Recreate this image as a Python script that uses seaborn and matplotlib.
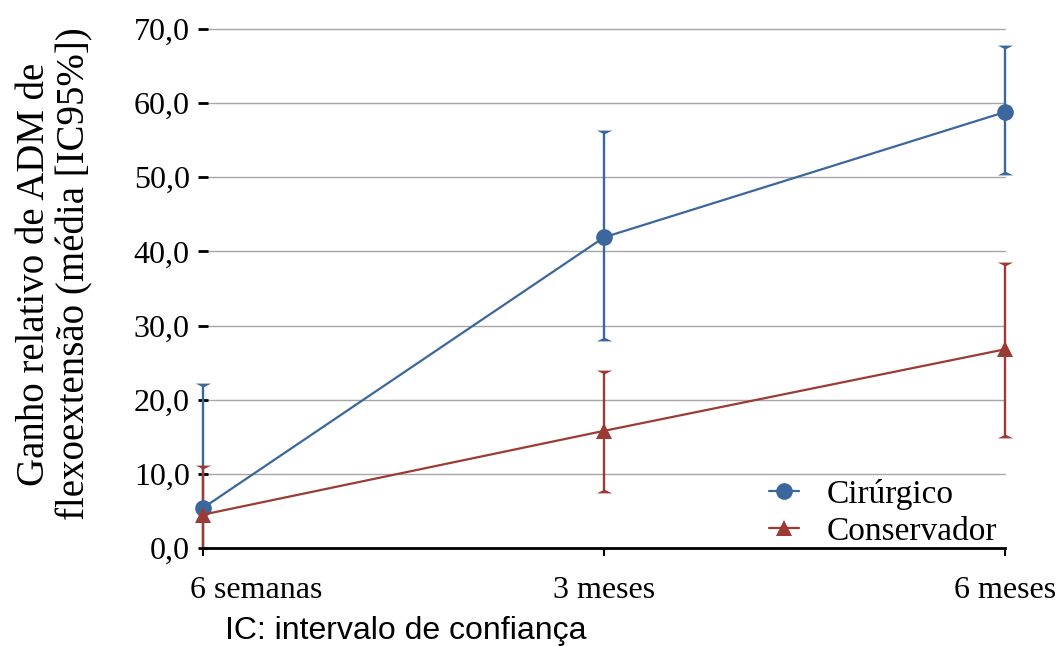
import matplotlib
matplotlib.use("Agg")
import matplotlib.pyplot as plt
from matplotlib.path import Path
import seaborn as sns
import pandas as pd
import numpy as np

categories = ["6 semanas", "3 meses", "6 meses"]
cir_mean = [5.4, 41.9, 58.8]
cir_low = [-11.2, 28.2, 50.6]
cir_high = [22.0, 56.1, 67.6]
con_mean = [4.5, 15.8, 26.8]
con_low = [-1.9, 7.7, 15.1]
con_high = [10.9, 23.7, 38.3]
series = ["Cirúrgico", "Conservador"]
yticks = [0, 10, 20, 30, 40, 50, 60, 70]

blue = "#3B679C"
red = "#9C3B36"

sns.set_theme(style="white")
plt.rcParams['font.family'] = ['Liberation Serif', 'DejaVu Serif']
plt.rcParams['text.color'] = 'black'
plt.rcParams['axes.labelcolor'] = 'black'
plt.rcParams['xtick.color'] = 'black'
plt.rcParams['ytick.color'] = 'black'

fig = plt.figure(figsize=(10.62, 6.46), dpi=100)
ax = fig.add_axes([203/1062, 1-548/646, (1005-203)/1062, (548-29)/646])

x = np.arange(len(categories))
df = pd.DataFrame({
    "x": np.concatenate([x, x]),
    "y": cir_mean + con_mean,
    "grupo": [series[0]]*3 + [series[1]]*3,
})

for yy in yticks[1:]:
    ax.axhline(yy, color="#A6A6A6", lw=1.0, zorder=0)

ymin, ymax = 0, 70

cap_down = Path([(-1, 0.25), (1, 0.25), (0, -0.25), (-1, 0.25)],
                [Path.MOVETO, Path.LINETO, Path.LINETO, Path.CLOSEPOLY])
cap_up = Path([(-1, -0.25), (1, -0.25), (0, 0.25), (-1, -0.25)],
              [Path.MOVETO, Path.LINETO, Path.LINETO, Path.CLOSEPOLY])

for mean, lo, hi, col in [(cir_mean, cir_low, cir_high, blue), (con_mean, con_low, con_high, red)]:
    mean = np.array(mean); lo = np.array(lo); hi = np.array(hi)
    lo_vis = np.clip(lo, ymin, ymax)
    ax.vlines(x, lo_vis, hi, color=col, lw=1.7, zorder=2, clip_on=False)
    ax.plot(x, hi, linestyle="none", marker=cap_down, markersize=11, color=col,
            markeredgewidth=0, zorder=2, clip_on=False)
    lo_cap = np.where(lo >= ymin, lo, np.nan)
    ax.plot(x, lo_cap, linestyle="none", marker=cap_up, markersize=11, color=col,
            markeredgewidth=0, zorder=2, clip_on=False)

sns.lineplot(data=df, x="x", y="y", hue="grupo", style="grupo",
             markers={series[0]: "o", series[1]: "^"}, dashes=False,
             palette={series[0]: blue, series[1]: red}, ax=ax,
             markersize=12, linewidth=1.6, markeredgewidth=0, zorder=3)
for ln in ax.lines:
    ln.set_clip_on(False)

ax.set_xlim(0, 2)
ax.set_ylim(ymin, ymax)
ax.set_yticks(yticks)
ax.set_yticklabels([f"{v:.1f}".replace(".", ",") for v in yticks], fontsize=23)
ax.set_xticks(x)
ax.set_xticklabels([""] + categories[1:], fontsize=23)
# first category label sits shifted to the right (as in the reference)
ax.annotate(categories[0], xy=(x[0], 0), xycoords=("data", "axes fraction"),
            xytext=(53 * 0.72, -20 * 0.72 - 6), textcoords="offset points",
            ha="center", va="top", fontsize=23, color="black")
for sp in ["top", "right", "left"]:
    ax.spines[sp].set_visible(False)
ax.spines["bottom"].set_color("black")
ax.spines["bottom"].set_linewidth(2)
ax.tick_params(axis="y", direction="inout", length=7, width=2, color="black",
               labelcolor="black", left=True, pad=6)
ax.tick_params(axis="x", direction="out", length=6, width=1.5, color="black",
               labelcolor="black", bottom=True, pad=14)
ax.set_xlabel("")
ax.set_ylabel("Ganho relativo de ADM de\nflexoextensão (média [IC95%])", fontsize=28,
              linespacing=1.12, color="black")
ax.yaxis.set_label_coords(-0.137, 0.528)

leg = ax.legend(frameon=False, fontsize=24, loc="lower right", bbox_to_anchor=(1.027, -0.056),
                handlelength=0.9, handletextpad=0.8, labelspacing=0.2)
for h in leg.legend_handles:
    h.set_markersize(12)
for t in leg.get_texts():
    t.set_color("black")

fig.text(225/1062, 1-631/646, "IC: intervalo de confiança", fontsize=23,
         family=["Liberation Sans", "DejaVu Sans"], va="center", ha="left", color="black")

fig.savefig("out.png", dpi=100)
